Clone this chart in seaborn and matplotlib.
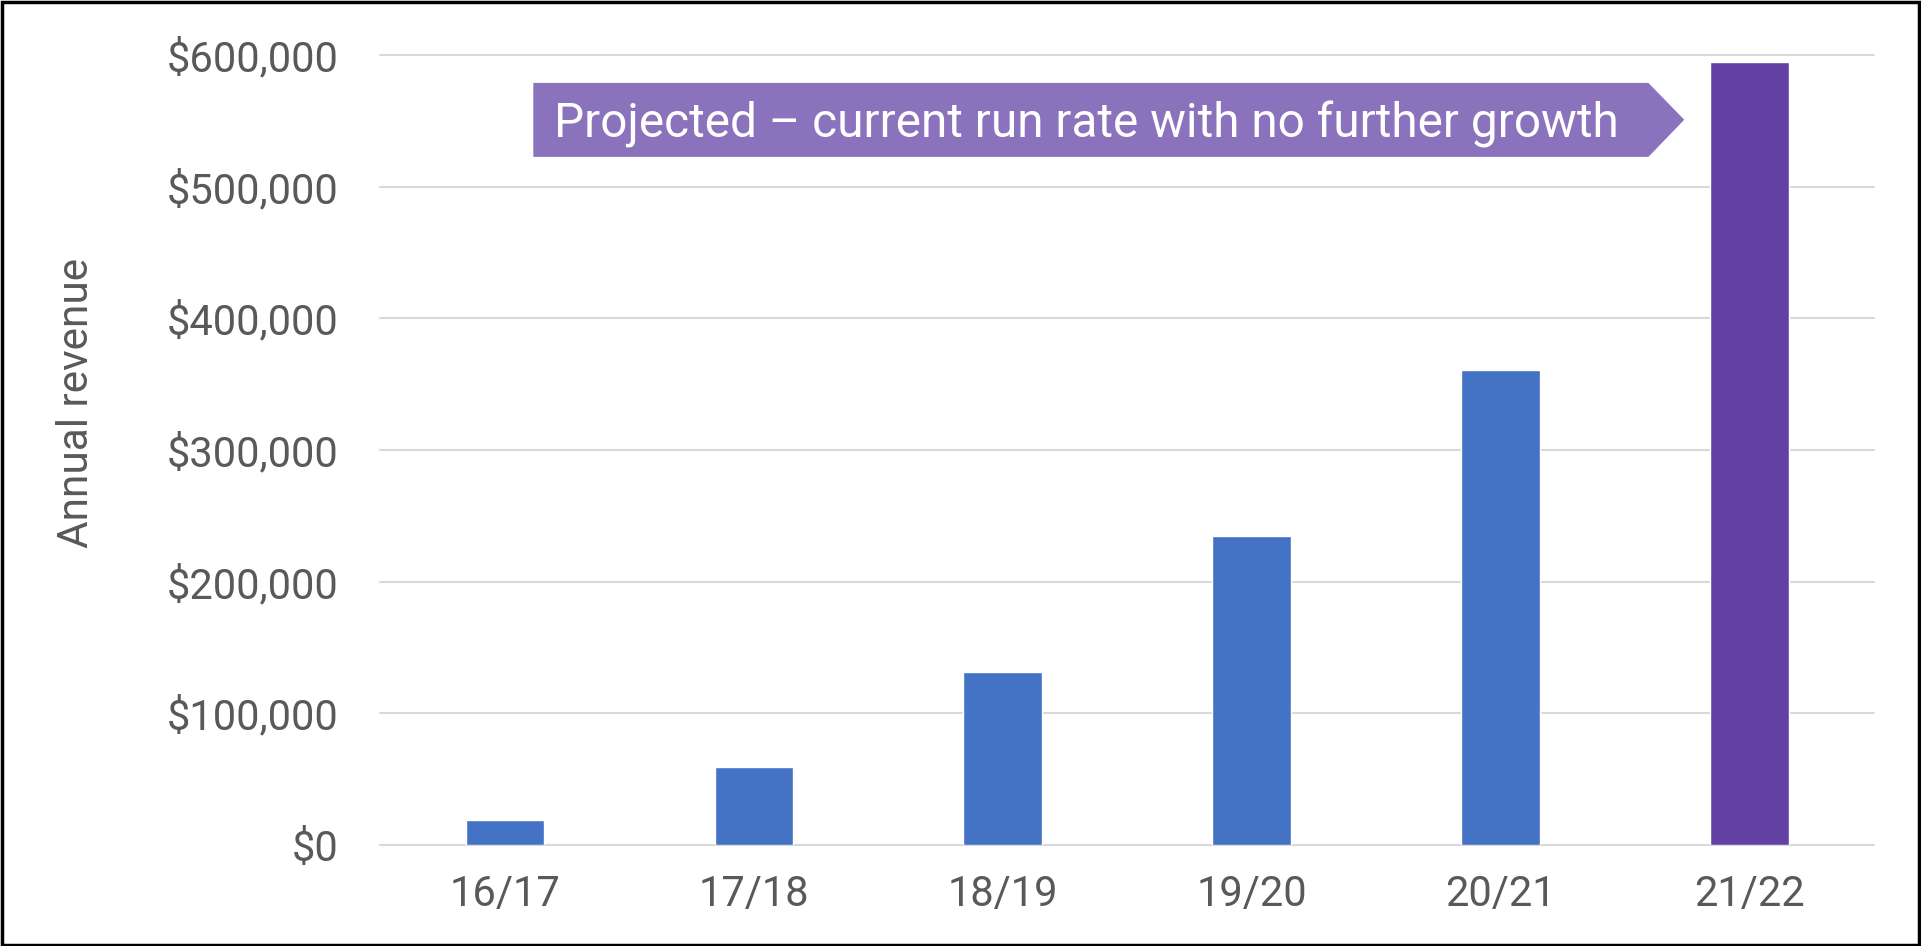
import matplotlib
matplotlib.use("Agg")
import matplotlib.pyplot as plt
import pandas as pd
import seaborn as sns
from matplotlib.patches import Polygon, Rectangle
from matplotlib.ticker import FuncFormatter

# data
years = ["16/17", "17/18", "18/19", "19/20", "20/21", "21/22"]
revenue = [19000, 59000, 131000, 235000, 361000, 595000]
bar_colors = ["#4472C4", "#4472C4", "#4472C4", "#4472C4", "#4472C4", "#6142A3"]
note = "Projected \u2013 current run rate with no further growth"

df = pd.DataFrame({"year": years, "revenue": revenue})

sns.set_style("white")
plt.rcParams["font.family"] = ["Roboto", "DejaVu Sans"]

fig = plt.figure(figsize=(19.21, 9.46), dpi=100)
ax = fig.add_axes([0.198, 0.1068, 0.7775, 0.8351])

sns.barplot(data=df, x="year", y="revenue", hue="year", palette=bar_colors,
            width=0.315, legend=False, ax=ax, saturation=1)

ax.set_xlim(-0.5, 5.5)
ax.set_ylim(0, 600000)
ax.set_yticks(range(0, 600001, 100000))
ax.yaxis.set_major_formatter(FuncFormatter(lambda v, p: f"${v:,.0f}"))
ax.grid(axis="y", color="#d9d9d9", linewidth=1.5)
ax.set_axisbelow(True)
for s in ax.spines.values():
    s.set_visible(False)
ax.tick_params(axis="both", length=0, labelsize=30, colors="#595959")
ax.tick_params(axis="x", pad=21)
ax.tick_params(axis="y", pad=30)
ax.set_xlabel("")
ax.set_ylabel("Annual revenue", fontsize=30.5, color="#595959")
ax.yaxis.set_label_coords(-0.19, 0.56)
for gl in ax.get_ygridlines():
    gl.set_clip_on(False)

# projected banner
banner = Polygon([[0.1024, 0.9646], [0.849, 0.9646], [0.873, 0.918],
                  [0.849, 0.871], [0.1024, 0.871]],
                 closed=True, transform=ax.transAxes, facecolor="#8B72BD",
                 edgecolor="none", zorder=4)
ax.add_patch(banner)
ax.text(0.1165, 0.896, note, transform=ax.transAxes, fontsize=34.4,
        color="white", va="baseline", ha="left", zorder=5)

# frame around the whole figure
fig.patches.append(Rectangle((0.001, 0.001), 0.998, 0.997, transform=fig.transFigure,
                             fill=False, edgecolor="black", linewidth=2.5))

fig.savefig("out.png", dpi=100)
